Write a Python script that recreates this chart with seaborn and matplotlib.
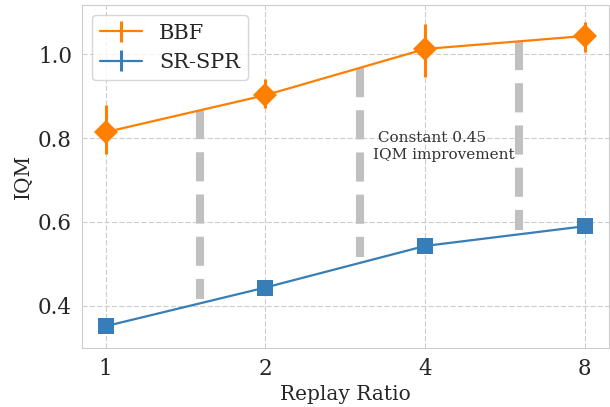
import numpy as np
import matplotlib
matplotlib.use("Agg")
import matplotlib.pyplot as plt
import seaborn as sns

replay_ratios = [1, 2, 4, 8]
bbf_iqm = [0.814, 0.902, 1.012, 1.043]
bbf_lower = [0.762, 0.871, 0.945, 1.005]
bbf_upper = [0.879, 0.940, 1.071, 1.076]
srspr_iqm = [0.352, 0.444, 0.543, 0.590]
gap = 0.45

sns.set_style("whitegrid", {"grid.linestyle": "--", "axes.edgecolor": "#cccccc"})
plt.rcParams["font.family"] = ["DejaVu Serif"]
plt.rcParams["lines.scale_dashes"] = False

orange = "#ff7f00"
blue = "#377eb8"

fig, ax = plt.subplots(figsize=(6.1, 4.07), dpi=100)
fig.subplots_adjust(left=0.134, right=0.998, bottom=0.145, top=0.988)

x = np.log2(replay_ratios)
bbf = np.array(bbf_iqm)
err = [bbf - np.array(bbf_lower), np.array(bbf_upper) - bbf]

ax.errorbar(x, bbf, yerr=err, color=orange, lw=1.6, elinewidth=2.2, label="BBF")
ax.errorbar(x, srspr_iqm, yerr=[[0] * 4, [0] * 4], color=blue, lw=1.6, elinewidth=2.2, label="SR-SPR")
sns.lineplot(x=x, y=bbf, marker="D", markersize=12, color=orange, lw=0, markeredgewidth=0, ax=ax)
sns.lineplot(x=x, y=srspr_iqm, marker="s", markersize=12, color=blue, lw=0, markeredgewidth=0, ax=ax)

# gray gap indicators between the two curves
for xi in [0.59, 1.59, 2.59]:
    top = np.interp(xi, x, bbf)
    ax.plot([xi, xi], [top, top - gap], color="#c0c0c0", lw=5.8,
            linestyle=(0, (21, 9.4)), dash_capstyle="butt", zorder=1)

ax.text(1.675, 0.78, " Constant 0.45\nIQM improvement", fontsize=11,
        ha="left", va="center", color="#333333")

ax.set_xticks(x)
ax.set_xticklabels([str(r) for r in replay_ratios])
ax.set_xlim(-0.15, 3.15)
ax.set_ylim(0.3, 1.117)
ax.set_yticks([0.4, 0.6, 0.8, 1.0])
ax.tick_params(labelsize=15.5)
ax.set_xlabel("Replay Ratio", fontsize=14.5)
ax.set_ylabel("IQM", fontsize=14.5)
ax.legend(loc="upper left", fontsize=15)

plt.savefig("out.png")
plt.close()
